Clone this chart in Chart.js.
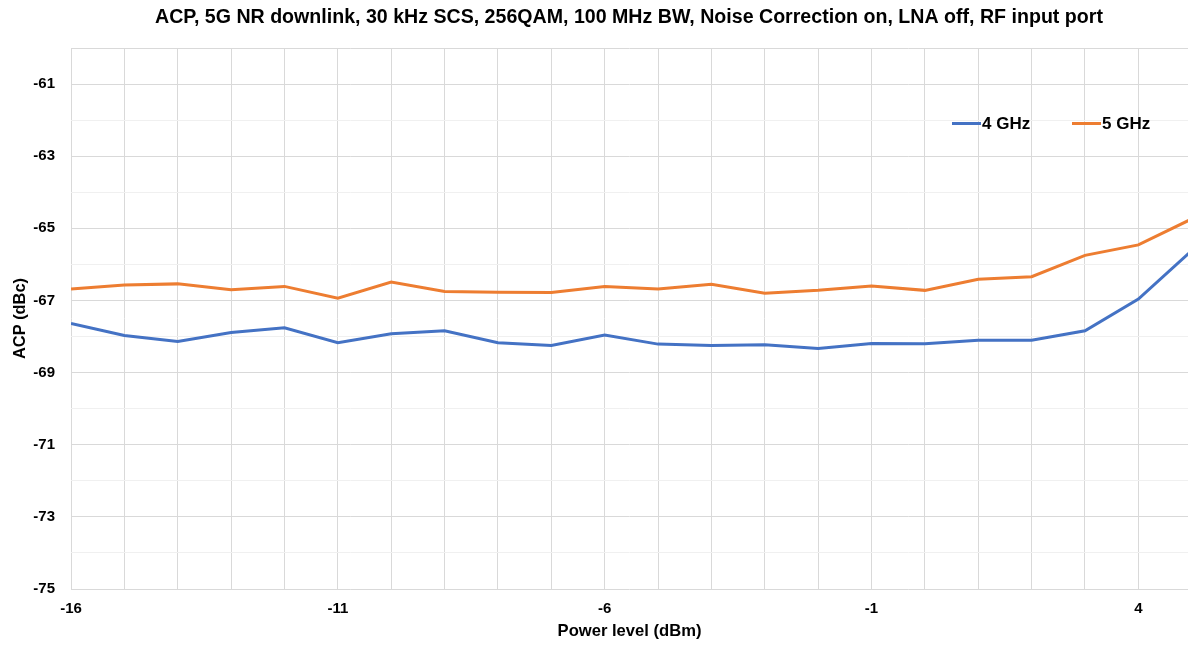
<!DOCTYPE html>
<html>
<head>
<meta charset="utf-8">
<script src="https://cdn.jsdelivr.net/npm/chart.js@4/dist/chart.umd.min.js"></script>
<style>
  html, body { margin: 0; padding: 0; background: #fff; overflow: hidden; }
  #wrap { position: relative; width: 1188px; height: 645px; }
</style>
</head>
<body>
<div id="wrap"><canvas id="acpChart"></canvas></div>
<script>
var chartTitle = 'ACP, 5G NR downlink, 30 kHz SCS, 256QAM, 100 MHz BW, Noise Correction on, LNA off, RF input port';
var seriesNames = ['4 GHz', '5 GHz'];
var seriesColors = ['#4472C4', '#ED7D31'];

// power level (dBm)
var powerLevels = [-16, -15, -14, -13, -12, -11, -10, -9, -8, -7, -6, -5, -4, -3, -2, -1, 0, 1, 2, 3, 4, 5];
// ACP (dBc)
var acp4GHz = [-67.64, -67.97, -68.14, -67.89, -67.76, -68.17, -67.92, -67.84, -68.17, -68.25, -67.96,
               -68.21, -68.25, -68.23, -68.33, -68.19, -68.20, -68.10, -68.10, -67.84, -66.96, -65.62];
var acp5GHz = [-66.68, -66.57, -66.54, -66.70, -66.61, -66.94, -66.49, -66.75, -66.77, -66.78, -66.61,
               -66.68, -66.55, -66.80, -66.72, -66.60, -66.72, -66.41, -66.34, -65.75, -65.46, -64.74];

var xLabelTicks = [-16, -11, -6, -1, 4];
var yLabelTicks = [-61, -63, -65, -67, -69, -71, -73, -75];

var fontName = '"Liberation Sans", Arial, sans-serif';

function toPoints(ys) {
  var pts = [];
  for (var i = 0; i < powerLevels.length; i++) {
    pts.push({x: powerLevels[i], y: ys[i]});
  }
  return pts;
}

// title over the plot, legend inside the plot (top right)
var titleAndLegend = {
  id: 'titleAndLegend',
  afterDraw: function(chart) {
    var ctx = chart.ctx;
    ctx.save();
    ctx.fillStyle = '#000';
    ctx.font = 'bold 19.6px ' + fontName;
    ctx.textAlign = 'center';
    ctx.textBaseline = 'middle';
    ctx.fillText(chartTitle, 629, 17.5);

    var legendX = [952, 1072];
    ctx.font = 'bold 17px ' + fontName;
    ctx.textAlign = 'left';
    chart.data.datasets.forEach(function(ds, i) {
      ctx.strokeStyle = ds.borderColor;
      ctx.lineWidth = 3;
      ctx.beginPath();
      ctx.moveTo(legendX[i], 123.5);
      ctx.lineTo(legendX[i] + 29, 123.5);
      ctx.stroke();
      ctx.fillStyle = '#000';
      ctx.fillText(ds.label, legendX[i] + 30, 124);
    });
    ctx.restore();
  }
};

var lineChart = new Chart(document.getElementById('acpChart'), {
  type: 'line',
  data: {
    datasets: [{
      label: seriesNames[0],
      data: toPoints(acp4GHz),
      borderColor: seriesColors[0],
      backgroundColor: seriesColors[0],
      borderWidth: 3,
      pointRadius: 0,
      tension: 0
    }, {
      label: seriesNames[1],
      data: toPoints(acp5GHz),
      borderColor: seriesColors[1],
      backgroundColor: seriesColors[1],
      borderWidth: 3,
      pointRadius: 0,
      tension: 0
    }]
  },
  options: {
    responsive: true,
    maintainAspectRatio: false,
    animation: false,
    devicePixelRatio: 1,
    layout: { padding: { top: 48, right: 0, bottom: 0, left: 0 } },
    plugins: {
      legend: { display: false },
      title: { display: false },
      tooltip: { enabled: false }
    },
    scales: {
      x: {
        type: 'linear',
        min: -16,
        max: 4.93,   // the original picture is cut just before x = 5
        afterFit: function(axis) { axis.height = 56; },
        afterBuildTicks: function(axis) {
          var t = [];
          for (var v = -16; v <= 4; v++) t.push({value: v});
          axis.ticks = t;
        },
        ticks: {
          autoSkip: false,
          maxRotation: 0,
          padding: 11,
          color: '#000',
          font: { family: fontName, size: 15, weight: 'bold' },
          callback: function(v) { return xLabelTicks.indexOf(v) >= 0 ? String(v) : ''; }
        },
        grid: { color: '#d9d9d9', lineWidth: 1, drawTicks: false },
        border: { display: false },
        title: {
          display: true,
          text: 'Power level (dBm)',
          color: '#000',
          padding: { top: 0, bottom: 4 },
          font: { family: fontName, size: 16.6, weight: 'bold' }
        }
      },
      y: {
        min: -75,
        max: -60,
        afterFit: function(axis) { axis.width = 71; },
        afterBuildTicks: function(axis) {
          var t = [];
          for (var v = -75; v <= -60; v++) t.push({value: v});
          axis.ticks = t;
        },
        ticks: {
          autoSkip: false,
          padding: 16,
          color: '#000',
          font: { family: fontName, size: 15, weight: 'bold' },
          callback: function(v) { return yLabelTicks.indexOf(v) >= 0 ? String(v) : ''; }
        },
        grid: {
          drawTicks: false,
          lineWidth: 1,
          color: function(c) {
            var v = c.tick ? c.tick.value : 0;
            return (Math.abs(v) % 2 === 1 || v === -60) ? '#d9d9d9' : '#f0f0f0';
          }
        },
        border: { display: false },
        title: {
          display: true,
          text: 'ACP (dBc)',
          color: '#000',
          padding: { top: 11, bottom: 0 },
          font: { family: fontName, size: 16.4, weight: 'bold' }
        }
      }
    }
  },
  plugins: [titleAndLegend]
});
</script>
</body>
</html>
